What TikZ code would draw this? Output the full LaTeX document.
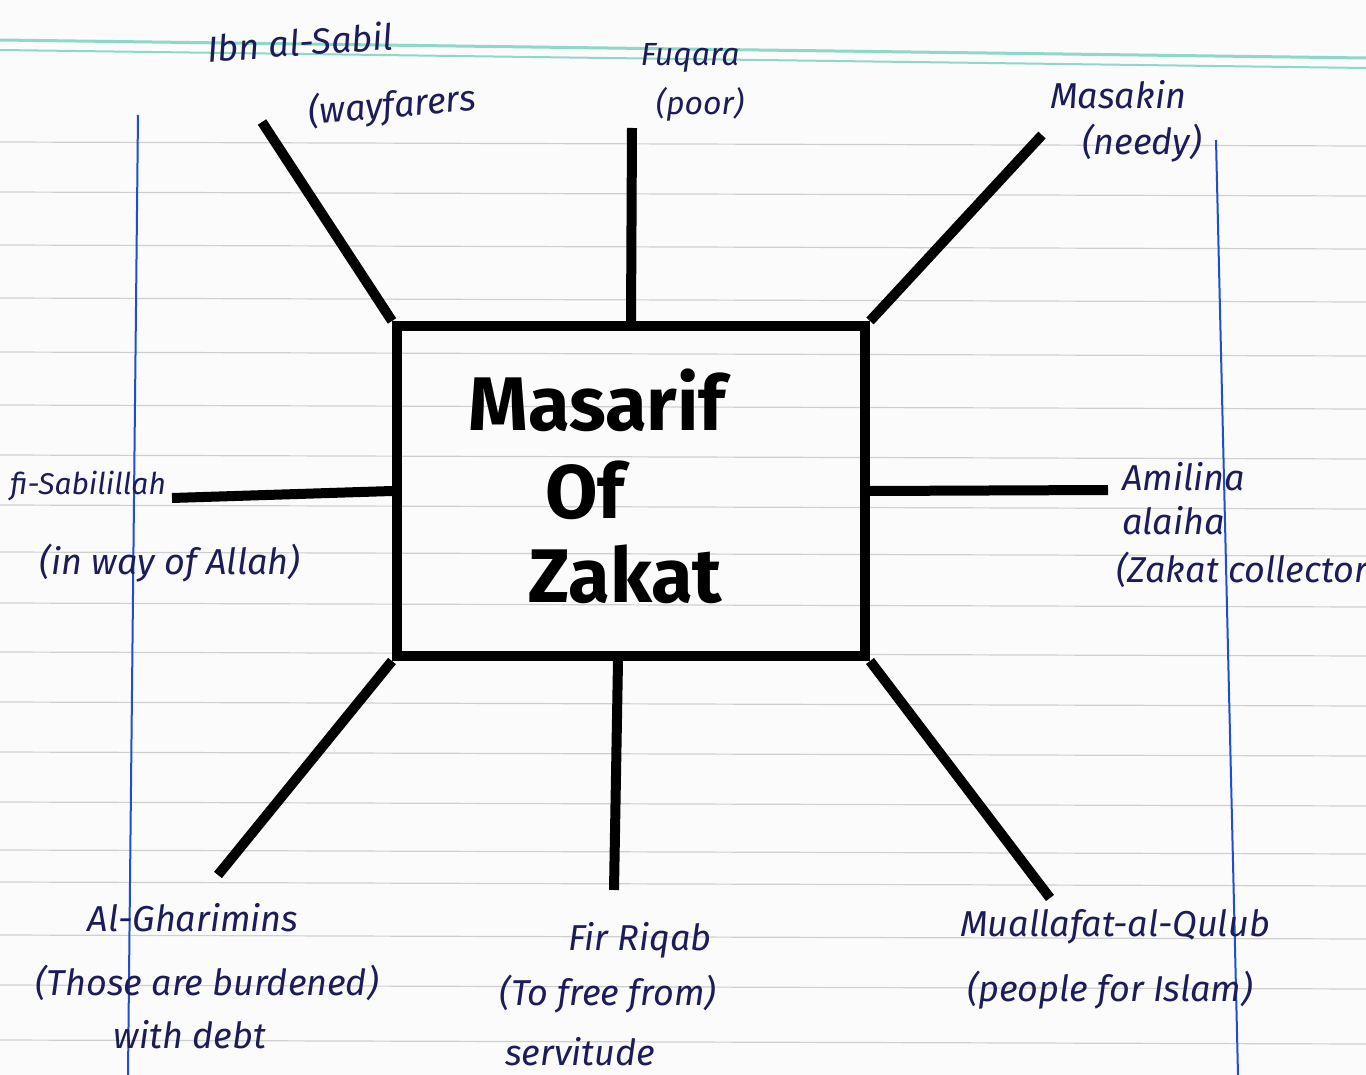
\documentclass[tikz,border=0pt]{standalone}
\usepackage{fontspec}
\setmainfont{Fira Sans}
\definecolor{ink}{HTML}{1C1C5A}
\definecolor{rule}{HTML}{CFCFCF}
\definecolor{teal}{HTML}{8ED8C8}
\definecolor{margin}{HTML}{1F4FD0}
\begin{document}
\begin{tikzpicture}[x=1pt,y=-1pt,
  lbl/.style={text=ink,font=\fontsize{36}{40}\selectfont\itshape,inner sep=0pt},
  ctr/.style={font=\fontsize{76}{84}\selectfont\bfseries,inner sep=0pt,text=black},
  spoke/.style={line width=10pt,black},
  ruled/.style={rule,line width=1.2pt}]
\useasboundingbox (0,0) rectangle (1366,1075);
\fill[white!97!gray] (0,0) rectangle (1366,1075);
% paper rules
\foreach \y in {142,192,245,298,352,405,455,505,552,603,652,702,752,802,850,882,935,985,1040}
  \draw[ruled] (0,\y) -- (1366,\y+4);
\draw[teal,line width=3pt] (0,40) -- (1366,58);
\draw[teal,line width=2pt] (0,50) -- (1366,68);
% margin lines
\draw[margin,line width=2pt] (138,115) -- (128,1075);
\draw[margin,line width=2pt] (1216,140) -- (1238,1075);
% centre box
\node[draw=black,line width=10pt,minimum width=468pt,minimum height=330pt,inner sep=0pt] (box) at (631,491) {};
\node[ctr] (t1) at (597,400) {Masarif};
\node[ctr] (t2) at (585,490) {Of};
\node[ctr] (t3) at (625,574) {Zakat};
% spoke ends
\coordinate (e1) at (262,122);
\coordinate (e2) at (632,128);
\coordinate (e3) at (1042,135);
\coordinate (e4) at (172,498);
\coordinate (e5) at (1108,490);
\coordinate (e6) at (218,875);
\coordinate (e7) at (614,890);
\coordinate (e8) at (1050,898);
\draw[spoke] (box.north west) -- (e1);
\draw[spoke] (box.north) -- (e2);
\draw[spoke] (box.north east) -- (e3);
\draw[spoke] (box.west) -- (e4);
\draw[spoke] (box.east) -- (e5);
\draw[spoke] (box.south west) -- (e6);
\draw[spoke] ([xshift=-13pt]box.south) -- (e7);
\draw[spoke] (box.south east) -- (e8);
% labels
\node[lbl,rotate=4] (l1a) at (300,42) {Ibn al-Sabil};
\node[lbl,rotate=5] (l1b) at (392,106) {(wayfarers};
\node[lbl,font=\fontsize{32}{36}\selectfont\itshape] (l2a) at (690,58) {Fuqara};
\node[lbl,font=\fontsize{32}{36}\selectfont\itshape] (l2b) at (700,104) {(poor)};
\node[lbl] (l3a) at (1118,95) {Masakin};
\node[lbl] (l3b) at (1142,143) {(needy)};
\node[lbl,anchor=west,font=\fontsize{30}{34}\selectfont\itshape] (l4a) at (10,486) {fi-Sabilillah};
\node[lbl] (l4b) at (170,563) {(in way of Allah)};
\node[lbl,anchor=west] (l5a) at (1122,477) {Amilina};
\node[lbl,anchor=west] (l5b) at (1122,521) {alaiha};
\node[lbl,anchor=west] (l5c) at (1116,570) {(Zakat collector};
\node[lbl] (l6a) at (193,918) {Al-Gharimins};
\node[lbl] (l6b) at (207,983) {(Those are burdened)};
\node[lbl] (l6c) at (190,1035) {with debt};
\node[lbl] (l7a) at (640,940) {Fir Riqab};
\node[lbl] (l7b) at (608,994) {(To free from)};
\node[lbl] (l7c) at (580,1052) {servitude};
\node[lbl] (l8a) at (1115,927) {Muallafat-al-Qulub};
\node[lbl] (l8b) at (1110,990) {(people for Islam)};
\end{tikzpicture}
\end{document}
